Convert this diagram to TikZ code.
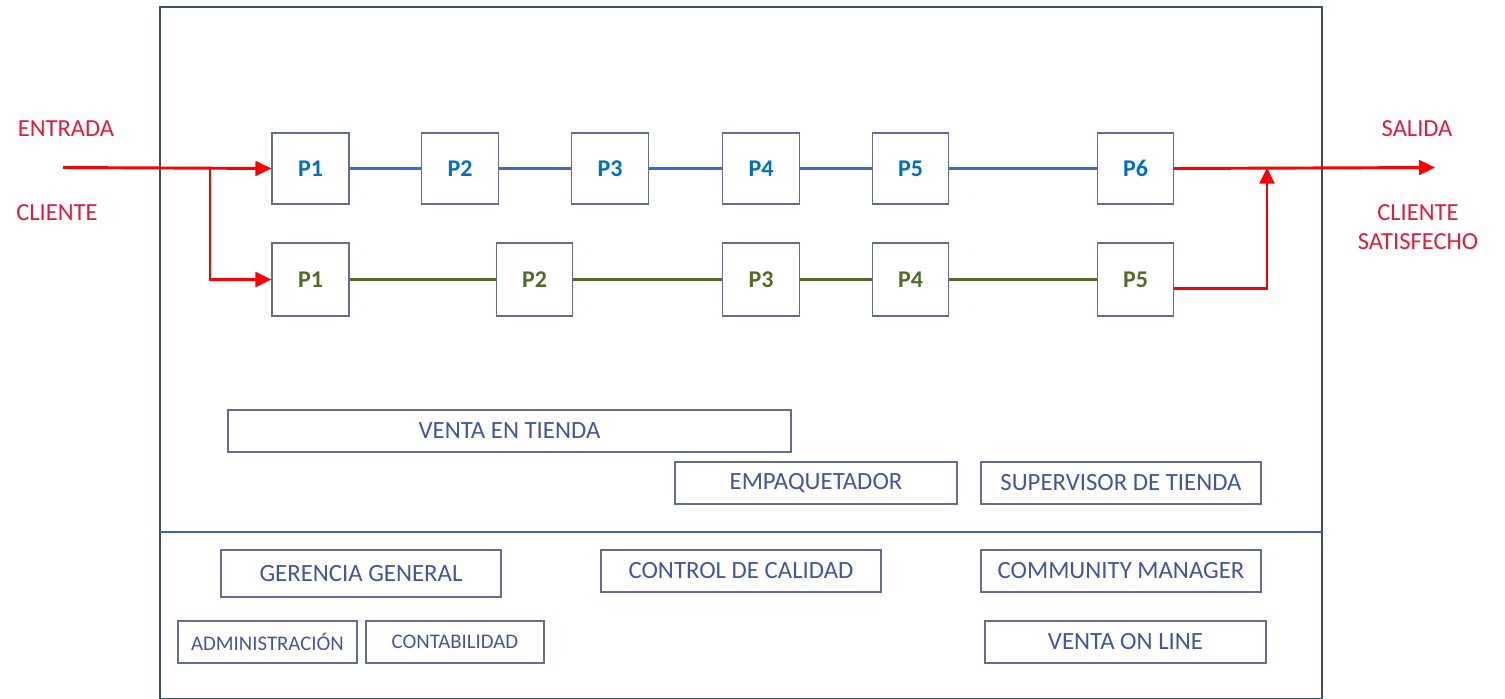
\documentclass[tikz,border=0pt]{standalone}
\usepackage{fontspec}
\setmainfont{Carlito}
\usetikzlibrary{arrows.meta}
\definecolor{redl}{RGB}{255,0,0}
\definecolor{redt}{RGB}{228,28,60}
\definecolor{pblue}{RGB}{0,112,192}
\definecolor{pgreen}{RGB}{80,108,40}
\definecolor{lblue}{RGB}{60,105,205}
\definecolor{lgreen}{RGB}{85,105,45}
\definecolor{btext}{RGB}{66,86,160}
\definecolor{bdraw}{RGB}{100,110,145}
\definecolor{frame}{RGB}{60,78,110}
\tikzset{
  sz/.style 2 args={minimum width=#1*0.75pt, minimum height=#2*0.75pt, inner sep=0pt},
  pb/.style={draw=bdraw, line width=0.8pt, text=pblue, font=\fontsize{18}{20}\selectfont\bfseries},
  pg/.style={draw=bdraw, line width=0.8pt, text=pgreen, font=\fontsize{18}{20}\selectfont\bfseries},
  lab/.style={draw=bdraw, line width=0.8pt, text=btext, font=\fontsize{18.6}{20}\selectfont},
  labs/.style={draw=bdraw, line width=0.8pt, text=btext, font=\fontsize{15.6}{18}\selectfont},
  rtxt/.style={text=redt, font=\fontsize{18.4}{22}\selectfont, align=center, inner sep=0pt},
  bline/.style={draw=lblue, line width=1.8pt},
  gline/.style={draw=lgreen, line width=1.8pt},
  rarr/.style={draw=redl, line width=2.2pt, -{Triangle[length=12pt,width=11pt]}},
}
\begin{document}
\begin{tikzpicture}[x=0.75pt, y=-0.75pt]
\useasboundingbox (0,0) rectangle (1505,699);
% frame
\draw[frame, line width=0.9pt] (160,7) rectangle (1322,698.5);
\draw[draw=lblue!70!frame, line width=1.5pt] (160,532) -- (1322,532);
% blue row
\node[pb, sz={77}{71}] (b1) at (310.5,168.5) {P1};
\node[pb, sz={77}{71}] (b2) at (460,168.5) {P2};
\node[pb, sz={77}{71}] (b3) at (610,168.5) {P3};
\node[pb, sz={77}{71}] (b4) at (761,168.5) {P4};
\node[pb, sz={76}{71}] (b5) at (910.5,168.5) {P5};
\node[pb, sz={76}{71}] (b6) at (1135.5,168.5) {P6};
% green row
\node[pg, sz={77}{73}] (g1) at (310.5,279.5) {P1};
\node[pg, sz={76}{73}] (g2) at (534.5,279.5) {P2};
\node[pg, sz={77}{73}] (g3) at (761,279.5) {P3};
\node[pg, sz={76}{73}] (g4) at (910.5,279.5) {P4};
\node[pg, sz={76}{73}] (g5) at (1135.5,279.5) {P5};
% connectors
\draw[bline] (b1.east) -- (b2.west);
\draw[bline] (b2.east) -- (b3.west);
\draw[bline] (b3.east) -- (b4.west);
\draw[bline] (b4.east) -- (b5.west);
\draw[bline] (b5.east) -- (b6.west);
\draw[gline] (g1.east) -- (g2.west);
\draw[gline] (g2.east) -- (g3.west);
\draw[gline] (g3.east) -- (g4.west);
\draw[gline] (g4.east) -- (g5.west);
% red arrows
\coordinate (in) at (63,167.5);
\coordinate (br) at (210,167.5);
\coordinate (out) at (1435,167.5);
\coordinate (jn) at (1267,167.5);
\draw[rarr] (in) -- (b1.west);
\draw[rarr] (br) |- (g1.west);
\draw[rarr] (b6.east) -- (out);
\draw[rarr] ([yshift=-6.5pt]g5.east) -| (jn);
% red texts
\node[rtxt] (t1) at (66,129) {ENTRADA};
\node[rtxt] (t2) at (57,213) {CLIENTE};
\node[rtxt] (t3) at (1417,129) {SALIDA};
\node[rtxt] (t4) at (1418,227) {CLIENTE\\[-0.5pt]SATISFECHO};
% role boxes
\node[lab, sz={563}{42}] (vt) at (509.5,431) {VENTA EN TIENDA};
\node[lab, sz={282}{42}] (em) at (816,483) {EMPAQUETADOR};
\node[lab, sz={280}{42}] (su) at (1121,483) {SUPERVISOR DE TIENDA};
\node[lab, sz={280}{47}] (gg) at (361,573.5) {GERENCIA GENERAL};
\node[labs, sz={179}{42}] (ad) at (267.5,642) {ADMINISTRACIÓN};
\node[labs, sz={178}{42}] (co) at (455,642) {CONTABILIDAD};
\node[lab, sz={280}{42}] (cc) at (741,571) {CONTROL DE CALIDAD};
\node[lab, sz={280}{42}] (cm) at (1121,571) {COMMUNITY MANAGER};
\node[lab, sz={281}{42}] (vo) at (1125.5,642) {VENTA ON LINE};
\end{tikzpicture}
\end{document}
